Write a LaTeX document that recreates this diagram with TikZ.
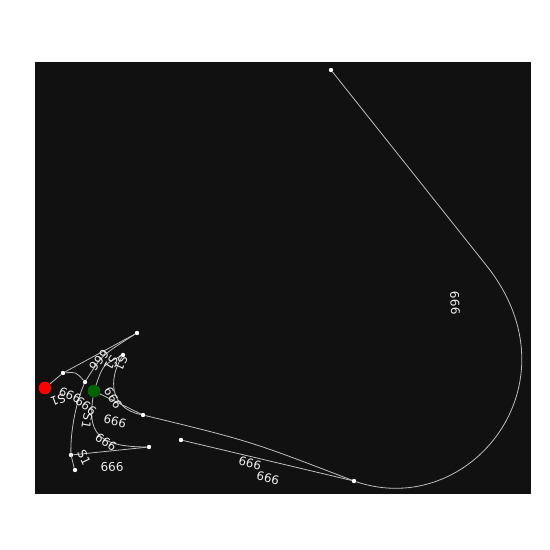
\documentclass[tikz,border=0pt]{standalone}
\usepackage{fontspec}
\setmainfont{DejaVu Sans}
\definecolor{panel}{HTML}{111111}
\definecolor{wire}{HTML}{BEBEBE}
\tikzset{
 dot/.style={circle,fill=white,inner sep=0pt,minimum size=4.4bp},
 bigdot/.style={circle,inner sep=0pt,minimum size=12.6bp},
 edge/.style={draw=wire,line width=0.8bp},
 lbl/.style={text=white!93!black,font=\fontsize{12}{13}\selectfont,inner sep=0pt}
}
\begin{document}
\begin{tikzpicture}[x=1bp,y=-1bp]
 \useasboundingbox (0,0) rectangle (550,550);
 \fill[white] (0,0) rectangle (550,550);
 \fill[panel] (35,62) rectangle (531,494);
 \node[dot] (a) at (137,333) {}; \node[dot] (b) at (123,355) {};
 \node[dot] (c) at (63,373) {}; \node[dot] (d) at (85,382) {};
 \node[dot] (e) at (143,415) {}; \node[dot] (f) at (181,440) {};
 \node[dot] (g) at (149,447) {}; \node[dot] (h) at (71,455) {};
 \node[dot] (i) at (75,470) {}; \node[dot] (j) at (354,481) {};
 \node[dot] (k) at (331,70) {};
 \node[bigdot,fill=red] (start) at (45,388) {};
 \node[bigdot,fill=green!39!black] (goal) at (94,391) {};
 \coordinate (bend) at (486.8,266);
 \draw[edge] (start) -- (c); \draw[edge] (c) -- (a);
 \draw[edge] (c) .. controls (76,372) .. (d);
 \draw[edge] (d) .. controls (102,355) .. (a);
 \draw[edge] (goal) .. controls (103,365) .. (b);
 \draw[edge] (b) .. controls (108,380) and (110,408) .. (e);
 \draw[edge] (goal) -- (e);
 \draw[edge] (e) .. controls (250,441) .. (j);
 \draw[edge] (f) -- (j);
 \draw[edge] (k) -- (bend) .. controls (580,383.5) and (470,520) .. (j);
 \draw[edge] (goal) .. controls (88,430) and (95,447) .. (g);
 \draw[edge] (h) -- (g);
 \draw[edge] (d) .. controls (75,405) and (70,435) .. (h.center) .. controls (72,462) .. (i);
 \node[lbl,rotate=-87] (l1) at (455,303) {666};
 \node[lbl,rotate=-15] (l2) at (250,463) {666};
 \node[lbl,rotate=-13] (l3) at (268,478) {666};
 \node[lbl,rotate=-58] (l4) at (113,398) {666};
 \node[lbl,rotate=-15] (l5) at (115,421) {666};
 \node[lbl,rotate=-35] (l6) at (106,442) {666};
 \node[lbl,rotate=3] (l7) at (112,467) {666};
 \node[lbl,rotate=-65] (l8) at (84,458) {S1};
 \node[lbl,rotate=-100] (l9) at (87,421) {S1};
 \node[lbl,rotate=-130] (l10) at (99,360) {666};
 \node[lbl,rotate=-120] (l11) at (111,363) {S1};
 \node[lbl,rotate=-115] (l12) at (121,363) {S1};
 \node[lbl,rotate=-160] (l13) at (58,400) {S1};
 \node[lbl,rotate=-25] (l14) at (70,395) {666};
 \node[lbl,rotate=-40] (l15) at (86,406) {666};
\end{tikzpicture}
\end{document}
